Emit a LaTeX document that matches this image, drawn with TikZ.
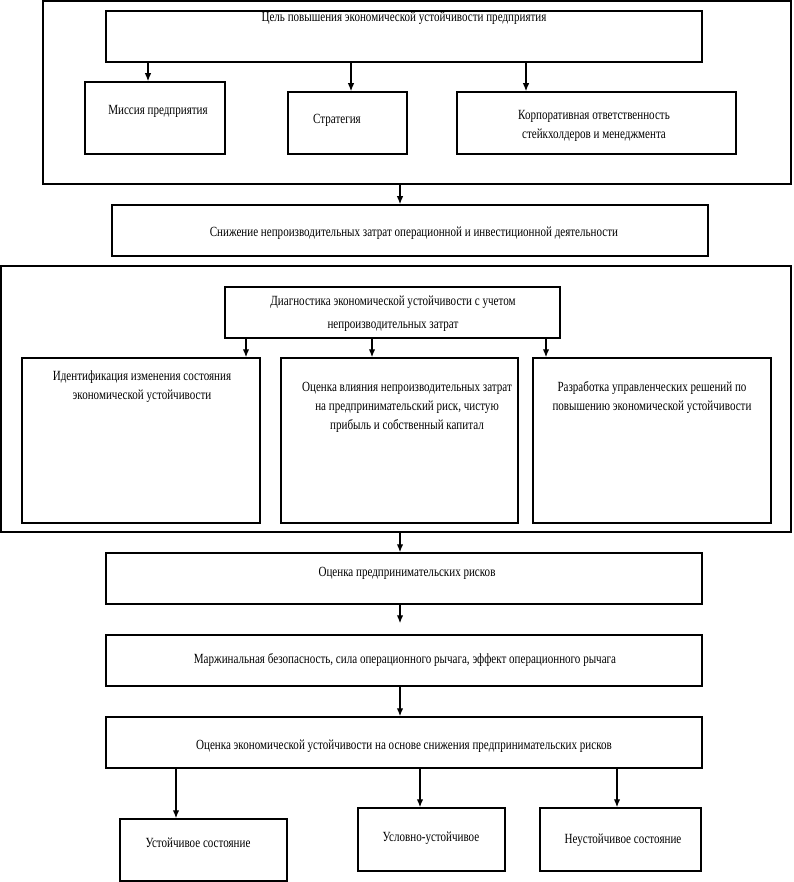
\documentclass[tikz,border=0pt]{standalone}
\usepackage{fontspec}
\setmainfont{Liberation Serif}[FakeStretch=0.79]
\usetikzlibrary{arrows.meta}
\begin{document}
\begin{tikzpicture}[x=1pt,y=-1pt,
  box/.style={draw,line width=1.5pt,rectangle,inner sep=0pt},
  txt/.style={inner sep=0pt,align=center,font=\fontsize{14}{19}\selectfont},
  arr/.style={line width=1.3pt,-{Latex[length=8pt,width=6.5pt]}}]
\useasboundingbox (0,0) rectangle (793,882);
% boxes
\node[box,minimum width=748pt,minimum height=183pt] (A) at (417,92.5) {};
\node[box,minimum width=596pt,minimum height=51pt] (goal) at (404,36.5) {};
\node[box,minimum width=140pt,minimum height=72pt] (mis) at (155,118) {};
\node[box,minimum width=119pt,minimum height=62pt] (str) at (347.5,123) {};
\node[box,minimum width=279pt,minimum height=62pt] (korp) at (596.5,123) {};
\node[box,minimum width=596pt,minimum height=51pt] (sniz) at (410,230.5) {};
\node[box,minimum width=790pt,minimum height=266pt] (B) at (396,399) {};
\node[box,minimum width=335pt,minimum height=51pt] (diag) at (392.5,312.5) {};
\node[box,minimum width=238pt,minimum height=165pt] (b1) at (141,440.5) {};
\node[box,minimum width=237pt,minimum height=165pt] (b2) at (399.5,440.5) {};
\node[box,minimum width=238pt,minimum height=165pt] (b3) at (652,440.5) {};
\node[box,minimum width=596pt,minimum height=51pt] (risk) at (404,578.5) {};
\node[box,minimum width=596pt,minimum height=51pt] (marg) at (404,660.5) {};
\node[box,minimum width=596pt,minimum height=51pt] (ocen) at (404,742.5) {};
\node[box,minimum width=167pt,minimum height=62pt] (st1) at (203.5,850) {};
\node[box,minimum width=147pt,minimum height=63pt] (st2) at (431.5,839.5) {};
\node[box,minimum width=161pt,minimum height=63pt] (st3) at (620.5,839.5) {};
% texts
\node[txt] (tgoal) at (404,18) {Цель повышения экономической устойчивости предприятия};
\node[txt] (tmis) at (158,111) {Миссия предприятия};
\node[txt] (tstr) at (337,120) {Стратегия};
\node[txt] (tkorp) at (594,126) {Корпоративная ответственность\\стейкхолдеров и менеджмента};
\node[txt] (tsniz) at (414,233) {Снижение непроизводительных затрат операционной и инвестиционной деятельности};
\node[txt,font=\fontsize{14}{23}\selectfont] (tdiag) at (393,313.5) {Диагностика экономической устойчивости с учетом\\непроизводительных затрат};
\node[txt] (tb1) at (142,386.5) {Идентификация изменения состояния\\экономической устойчивости};
\node[txt] (tb2) at (407,407) {Оценка влияния непроизводительных затрат\\на предпринимательский риск, чистую\\прибыль и собственный капитал};
\node[txt] (tb3) at (652,397.5) {Разработка управленческих решений по\\повышению экономической устойчивости};
\node[txt] (trisk) at (407,573) {Оценка предпринимательских рисков};
\node[txt] (tmarg) at (405,660) {Маржинальная безопасность, сила операционного рычага, эффект операционного рычага};
\node[txt] (tocen) at (404,746) {Оценка экономической устойчивости на основе снижения предпринимательских рисков};
\node[txt] (tst1) at (198,843) {Устойчивое состояние};
\node[txt] (tst2) at (431,838) {Условно-устойчивое};
\node[txt] (tst3) at (623,840) {Неустойчивое состояние};
% arrow columns
\coordinate (c1) at (148,0);
\coordinate (c2) at (351,0);
\coordinate (c3) at (526,0);
\coordinate (cm) at (400,0);
\coordinate (d1) at (246,0);
\coordinate (d2) at (372,0);
\coordinate (d3) at (546,0);
\coordinate (e1) at (176,0);
\coordinate (e2) at (420,0);
\coordinate (e3) at (617,0);
% connectors
\draw[arr] (c1 |- goal.south) -- (c1 |- mis.north);
\draw[arr] (c2 |- goal.south) -- (c2 |- str.north);
\draw[arr] (c3 |- goal.south) -- (c3 |- korp.north);
\draw[arr] (cm |- A.south) -- (cm |- sniz.north);
\draw[arr] (d1 |- diag.south) -- (d1 |- b1.north);
\draw[arr] (d2 |- diag.south) -- (d2 |- b2.north);
\draw[arr] (d3 |- diag.south) -- (d3 |- b3.north);
\draw[arr] (cm |- B.south) -- (cm |- risk.north);
\draw[arr] (cm |- risk.south) -- ([yshift=11pt]cm |- marg.north);
\draw[arr] (cm |- marg.south) -- (cm |- ocen.north);
\draw[arr] (e1 |- ocen.south) -- (e1 |- st1.north);
\draw[arr] (e2 |- ocen.south) -- (e2 |- st2.north);
\draw[arr] (e3 |- ocen.south) -- (e3 |- st3.north);
\end{tikzpicture}
\end{document}
